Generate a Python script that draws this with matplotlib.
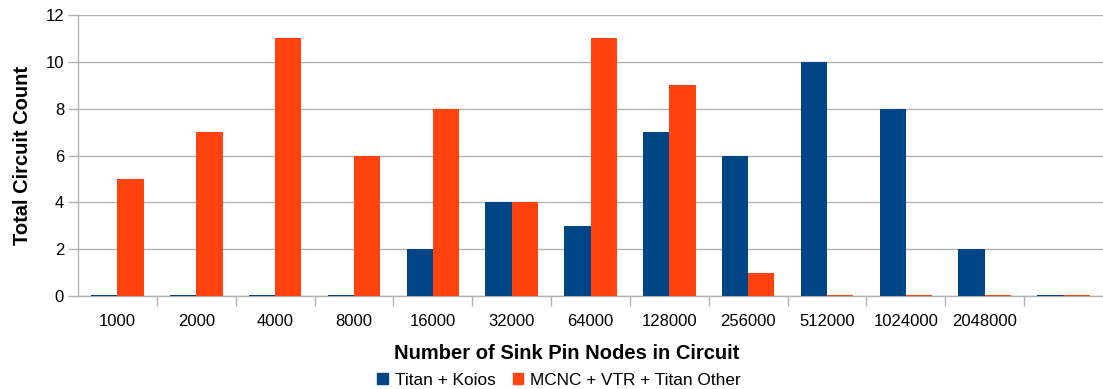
import numpy as np
import matplotlib
matplotlib.use("Agg")
import matplotlib.pyplot as plt
from matplotlib.patches import Patch

plt.rcParams["font.family"] = ["Liberation Sans", "DejaVu Sans"]

# sink pin node bins (last bin has no label in the original)
categories = ["1000", "2000", "4000", "8000", "16000", "32000", "64000",
              "128000", "256000", "512000", "1024000", "2048000", ""]
titan_koios = [0, 0, 0, 0, 2, 4, 3, 7, 6, 10, 8, 2, 0]
mcnc_vtr_other = [5, 7, 11, 6, 8, 4, 11, 9, 1, 0, 0, 0, 0]

BLUE = "#004586"
ORANGE = "#ff420e"
GRID = "#b3b3b3"

fig = plt.figure(figsize=(11.03, 3.89), dpi=100)
ax = fig.add_axes([78 / 1103, 93 / 389, 1025 / 1103, 281 / 389])

x = np.arange(len(categories))
w = 1 / 3
# zero-height bars show as a thin line, like the original
h1 = [v if v > 0 else 0.03 for v in titan_koios]
h2 = [v if v > 0 else 0.03 for v in mcnc_vtr_other]
ax.bar(x - w / 2, h1, width=w, color=BLUE, zorder=3)
ax.bar(x + w / 2, h2, width=w, color=ORANGE, zorder=3)

ax.set_xlim(-0.5, len(categories) - 0.5)
ax.set_ylim(0, 12)
ax.set_yticks(range(0, 13, 2))
ax.yaxis.grid(True, color=GRID, linewidth=1)
ax.set_axisbelow(True)

ax.set_xticks(x)
ax.set_xticklabels(categories, fontsize=12)
ax.set_xticks(np.arange(0.5, len(categories) - 0.5), minor=True)
ax.tick_params(axis="x", which="major", length=0, pad=13)
ax.tick_params(axis="x", which="minor", length=7, color=GRID, width=1)
ax.tick_params(axis="y", length=7, color=GRID, width=1, labelsize=12, pad=3)

for s in ["top", "right"]:
    ax.spines[s].set_visible(False)
for s in ["left", "bottom"]:
    ax.spines[s].set_color(GRID)
    ax.spines[s].set_linewidth(1)

ax.set_ylabel("Total Circuit Count", fontsize=14.5, fontweight="bold", labelpad=10)
ax.set_xlabel("Number of Sink Pin Nodes in Circuit", fontsize=14.5,
              fontweight="bold")
ax.xaxis.set_label_coords((567 - 78) / 1025, -(344 - 296) / 281)

handles = [Patch(color=BLUE, label="Titan + Koios"),
           Patch(color=ORANGE, label="MCNC + VTR + Titan Other")]
fig.legend(handles=handles, loc="center", bbox_to_anchor=(559 / 1103, 0.022),
           ncol=2, frameon=False, fontsize=12.4, handlelength=0.6,
           handleheight=0.6, handletextpad=0.4, columnspacing=1.0)

fig.savefig("out.png", dpi=100)
